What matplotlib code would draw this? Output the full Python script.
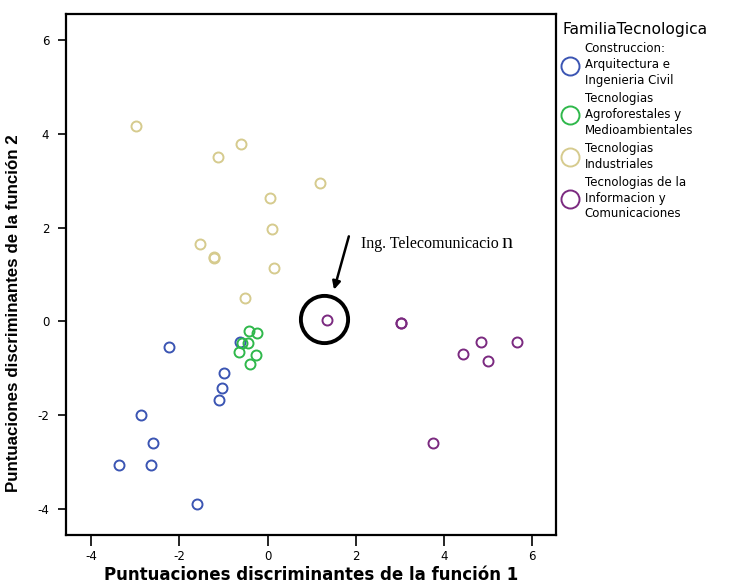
import matplotlib
matplotlib.use("Agg")
import matplotlib.pyplot as plt
from matplotlib.lines import Line2D

plt.rcParams["font.family"] = ["DejaVu Sans"]
plt.rcParams["axes.unicode_minus"] = False

# discriminant scores per technology family
constr_x = [-2.23, -0.63, -0.98, -1.03, -1.10, -2.88, -2.59, -3.36, -2.65, -1.61]
constr_y = [-0.55, -0.44, -1.09, -1.42, -1.68, -2.00, -2.59, -3.05, -3.06, -3.89]

agro_x = [-0.42, -0.25, -0.57, -0.44, -0.65, -0.27, -0.40]
agro_y = [-0.21, -0.24, -0.45, -0.45, -0.65, -0.72, -0.90]

indus_x = [-2.99, -0.61, -1.13, 1.18, 0.05, 0.09, -1.54, -1.22, -1.22, 0.14, -0.50]
indus_y = [4.16, 3.77, 3.50, 2.94, 2.62, 1.98, 1.64, 1.36, 1.37, 1.13, 0.51]

tic_x = [1.34, 3.02, 3.02, 4.83, 5.65, 4.42, 5.00, 3.76]
tic_y = [0.03, -0.04, -0.03, -0.44, -0.43, -0.70, -0.85, -2.59]

groups = [
    ("Construccion:\nArquitectura e\nIngenieria Civil", constr_x, constr_y, "#3b55b3"),
    ("Tecnologias\nAgroforestales y\nMedioambientales", agro_x, agro_y, "#2fb84b"),
    ("Tecnologias\nIndustriales", indus_x, indus_y, "#d6cb8e"),
    ("Tecnologias de la\nInformacion y\nComunicaciones", tic_x, tic_y, "#7b2a80"),
]

fig = plt.figure(figsize=(7.34, 5.83), dpi=100)
ax = fig.add_axes([0.0899, 0.0823, 0.6676, 0.8937])

for name, xs, ys, col in groups:
    ax.plot(xs, ys, "o", ms=7.2, mfc="none", mec=col, mew=1.4, ls="none")

# highlighted case
ax.plot([1.28], [0.06], "o", ms=34, mfc="none", mec="black", mew=2.8)
ax.annotate("", xy=(1.49, 0.62), xytext=(1.86, 1.87),
            arrowprops=dict(arrowstyle="-|>", color="black", lw=1.8, mutation_scale=12))
ax.text(2.11, 1.56, "Ing. Telecomunicacio", family="Liberation Serif", fontsize=11.5,
        va="baseline", ha="left")
ax.text(5.30, 1.56, "n", family="Liberation Serif", fontsize=16, va="baseline", ha="left")

ax.set_xlim(-4.57, 6.54)
ax.set_ylim(-4.55, 6.55)
ax.set_xticks([-4, -2, 0, 2, 4, 6])
ax.set_yticks([-4, -2, 0, 2, 4, 6])
ax.tick_params(direction="out", length=6, width=1.2, labelsize=8.5, pad=6)
ax.tick_params(axis="x", length=8, pad=3)
for s in ax.spines.values():
    s.set_linewidth(1.6)

ax.set_xlabel("Puntuaciones discriminantes de la función 1", fontsize=12,
              fontweight="bold", va="center")
ax.xaxis.set_label_coords(0.5, -0.077)
ax.set_ylabel("Puntuaciones discriminantes de la función 2", fontsize=12.2,
              fontweight="bold", family="Liberation Sans")
ax.yaxis.set_label_coords(-0.092, 0.425)

handles = [Line2D([], [], marker="o", ls="none", ms=13, mfc="none", mec=c, mew=1.4)
           for _, _, _, c in groups]
labels = [g[0] for g in groups]
leg = fig.legend(handles, labels, title="FamiliaTecnologica", loc="upper left",
                 bbox_to_anchor=(0.766, 0.962), frameon=False, fontsize=8.5,
                 title_fontsize=11.2, handletextpad=0.6, borderaxespad=0,
                 labelspacing=0.45, handlelength=1.3, borderpad=0)
leg._legend_box.align = "left"
for t in leg.get_texts():
    t.set_linespacing(1.27)

fig.savefig("out.png", dpi=100)
